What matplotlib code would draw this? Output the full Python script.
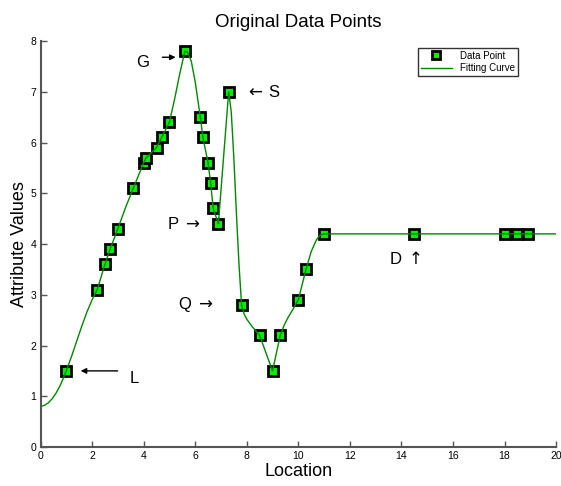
import numpy as np
import matplotlib
matplotlib.use('Agg')
import matplotlib.pyplot as plt

plt.rcParams['font.family'] = ['Liberation Sans', 'DejaVu Sans']

# data points
loc = [1.0, 2.2, 2.5, 2.7, 3.0, 3.6, 4.0, 4.1, 4.5, 4.7, 5.0, 5.6,
       6.2, 6.3, 6.5, 6.6, 6.7, 6.9, 7.3, 7.8, 8.5, 9.0, 9.3, 10.0,
       10.3, 11.0, 14.5, 18.0, 18.5, 18.9]
val = [1.5, 3.1, 3.6, 3.9, 4.3, 5.1, 5.6, 5.7, 5.9, 6.1, 6.4, 7.8,
       6.5, 6.1, 5.6, 5.2, 4.7, 4.4, 7.0, 2.8, 2.2, 1.5, 2.2, 2.9,
       3.5, 4.2, 4.2, 4.2, 4.2, 4.2]

# fitting curve
curve_x = [0, 0.15, 0.3, 0.45, 0.6, 0.75, 0.9, 1.0, 1.2, 1.4, 1.6, 1.8,
           2.0, 2.2, 2.5, 2.7, 3.0, 3.3, 3.6, 4.0, 4.1, 4.5, 4.7, 5.0,
           5.2, 5.4, 5.6, 5.7, 5.85, 6.0, 6.2, 6.3, 6.5, 6.6, 6.7, 6.9,
           7.1, 7.3, 7.4, 7.5, 7.6, 7.7, 7.8, 7.9, 8.0, 8.2, 8.5, 8.75,
           9.0, 9.15, 9.3, 9.45, 9.6, 9.8, 10.0, 10.3, 10.5, 10.7, 10.85,
           11.0, 20.0]
curve_y = [0.8, 0.82, 0.87, 0.95, 1.06, 1.2, 1.37, 1.5, 1.78, 2.08,
           2.38, 2.66, 2.9, 3.1, 3.6, 3.9, 4.3, 4.72, 5.1, 5.6, 5.7, 5.9,
           6.1, 6.4, 6.85, 7.35, 7.8, 7.78, 7.6, 7.2, 6.5, 6.1, 5.6, 5.2,
           4.7, 4.4, 5.7, 7.0, 6.6, 5.7, 4.6, 3.6, 2.8, 2.62, 2.52, 2.38,
           2.2, 1.85, 1.5, 1.85, 2.2, 2.4, 2.55, 2.72, 2.9, 3.5, 3.85,
           4.08, 4.18, 4.2, 4.2]

fig = plt.figure(figsize=(5.61, 4.86), dpi=100)
ax = fig.add_axes([0.0722, 0.0802, 0.919, 0.8354])

ax.plot(loc, val, 's', color='#00ee00', markeredgecolor='black',
        markeredgewidth=2.0, markersize=7.5, label='Data Point', zorder=3)
ax.plot(curve_x, curve_y, '-', color='#008800', lw=1.0,
        label='Fitting Curve', zorder=4)

ax.set_xlim(0, 20)
ax.set_ylim(0, 8)
ax.set_xticks(np.arange(0, 21, 2))
ax.set_yticks(np.arange(0, 9, 1))
for s in ['top', 'right']:
    ax.spines[s].set_visible(False)
for s in ['left', 'bottom']:
    ax.spines[s].set_color('#555555')
    ax.spines[s].set_linewidth(1.5)
ax.tick_params(direction='in', length=4, width=1, color='#555555',
               labelsize=7.5, pad=3)

ax.set_title('Original Data Points', fontsize=13.5, pad=10)
ax.set_xlabel('Location', fontsize=13, labelpad=1)
ax.set_ylabel('Attribute Values', fontsize=13, labelpad=2)

leg = ax.legend(loc='upper right', bbox_to_anchor=(0.935, 0.995),
                fontsize=7, frameon=True, fancybox=False,
                handlelength=3.2, borderpad=0.3, labelspacing=0.25,
                markerscale=0.75)
leg.get_frame().set_edgecolor('black')
leg.get_frame().set_linewidth(1.0)

# annotations
ax.text(3.98, 7.58, 'G', fontsize=12, ha='center', va='center')
ax.annotate('', xy=(5.35, 7.68), xytext=(4.62, 7.68),
            arrowprops=dict(arrowstyle='-|>', color='black', lw=1,
                            mutation_scale=8))
ax.text(7.95, 7.0, r'$\leftarrow\,$S', fontsize=12, ha='left', va='center')
ax.text(4.9, 4.4, r'P $\rightarrow$', fontsize=12, ha='left', va='center')
ax.text(5.35, 2.8, r'Q $\rightarrow$', fontsize=12, ha='left', va='center')
ax.text(13.5, 3.72, r'D $\uparrow$', fontsize=12, ha='left', va='center')
ax.text(3.45, 1.35, 'L', fontsize=12, ha='left', va='center')
ax.annotate('', xy=(1.45, 1.5), xytext=(3.1, 1.5),
            arrowprops=dict(arrowstyle='-|>', color='black', lw=1,
                            mutation_scale=8))

fig.savefig('out.png', dpi=100)
